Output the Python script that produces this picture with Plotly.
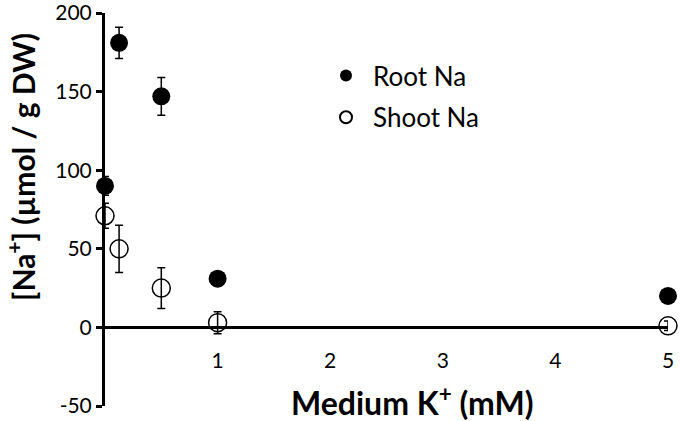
import plotly.graph_objects as go

medium_k = [0, 0.125, 0.5, 1, 5]
root_na = [90, 181, 147, 31, 20]
root_err = [6, 10, 12, 2, 2]
shoot_na = [71, 50, 25, 3, 1]
shoot_err = [8, 15, 13, 7, 3]
x_ticks = [1, 2, 3, 4, 5]
y_ticks = [-50, 0, 50, 100, 150, 200]
y_tick_text = ["-50", "0", "50", "100", "150", "200"]

FONT = "Lato"
W, H = 680, 421
L, R, T, B = 105, 12, 13, 15
PW, PH = W - L - R, H - T - B


def px_x(p):
    return (p - L) / PW


def px_y(p):
    return (H - B - p) / PH


fig = go.Figure()
fig.add_trace(go.Scatter(
    x=medium_k, y=root_na, mode="markers", name="Root Na", legendgroup="root",
    marker=dict(symbol="circle", size=18, color="black", line=dict(color="black", width=0)),
    error_y=dict(type="data", array=root_err, color="black", thickness=1.5, width=4),
    cliponaxis=False,
))
fig.add_trace(go.Scatter(
    x=medium_k, y=shoot_na, mode="markers", name="Shoot Na", legendgroup="shoot",
    marker=dict(symbol="circle-open", size=18, color="black", line=dict(color="black", width=1.5)),
    error_y=dict(type="data", array=shoot_err, color="black", thickness=1.5, width=4),
    cliponaxis=False,
))

fig.update_layout(
    width=W, height=H,
    margin=dict(l=L, r=R, t=T, b=B),
    plot_bgcolor="white", paper_bgcolor="white",
    font=dict(family=FONT, color="black", size=21),
    showlegend=True,
    legend=dict(x=px_x(319), y=px_y(52), xanchor="left", yanchor="top",
                font=dict(size=26, family=FONT), itemsizing="constant", itemwidth=44,
                bgcolor="rgba(0,0,0,0)", tracegroupgap=5),
    xaxis=dict(
        range=[0, 5], anchor="free", position=0.2, automargin=False,
        showline=True, linecolor="black", linewidth=3,
        tickvals=x_ticks, ticks="", ticklabelstandoff=13, ticklabeloverflow="allow",
        showgrid=False, zeroline=False,
        tickfont=dict(size=21, family=FONT),
    ),
    yaxis=dict(
        range=[-50, 200], showline=True, linecolor="black", linewidth=3, automargin=False,
        tickvals=y_ticks, ticktext=y_tick_text, ticklabeloverflow="allow",
        ticks="outside", ticklen=6, tickwidth=3, tickcolor="black",
        showgrid=False, zeroline=False,
        tickfont=dict(size=21, family=FONT),
    ),
    annotations=[
        dict(text="<b>Medium K<sup>+</sup> (mM)</b>", xref="paper", yref="paper",
             x=px_x(413), y=px_y(401), xanchor="center", yanchor="middle",
             showarrow=False, font=dict(size=32, family=FONT)),
        dict(text="<b>[Na<sup>+</sup>] (µmol / g DW)</b>", xref="paper", yref="paper",
             x=px_x(21), y=px_y(167), xanchor="center", yanchor="middle", textangle=-90,
             showarrow=False, font=dict(size=30, family=FONT)),
    ],
)

fig.write_html("out.html", config={"displayModeBar": False},
               post_script="document.body.style.margin='0';")
